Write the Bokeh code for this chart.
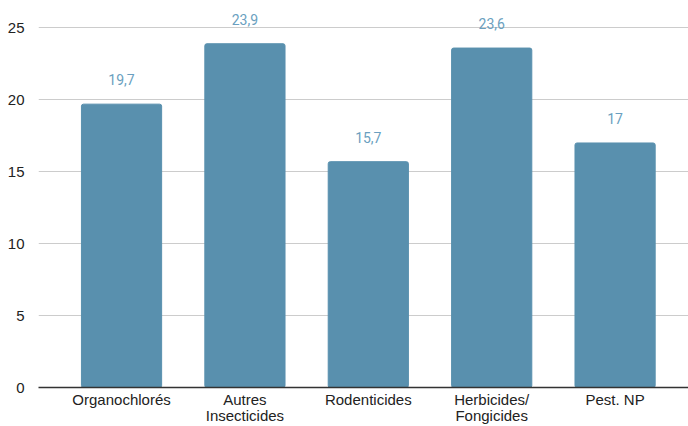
from bokeh.plotting import figure
from bokeh.models import ColumnDataSource, FixedTicker, Range1d
from bokeh.core.properties import value
from bokeh.embed import file_html
from bokeh.resources import INLINE

categories = ["Organochlorés", "Autres\nInsecticides", "Rodenticides", "Herbicides/\nFongicides", "Pest. NP"]
values = [19.7, 23.9, 15.7, 23.6, 17]
y_ticks = [0, 5, 10, 15, 20, 25]

def fmt(v):
    s = ("%g" % v)
    return s.replace(".", ",")

idx = list(range(len(categories)))
src = ColumnDataSource(dict(x=idx, top=values, lab=[fmt(v) for v in values]))

p = figure(width=688, height=426, output_backend="svg", toolbar_location=None,
           x_range=Range1d(-0.673, 4.595), y_range=Range1d(0, 26.35),
           min_border_left=38, min_border_right=0, min_border_top=8, min_border_bottom=0)
p.outline_line_color = None
p.background_fill_color = "white"
p.border_fill_color = "white"

p.vbar(x="x", top="top", width=0.65, source=src, color="#5990ae", border_radius=2)
p.text(x="x", y="top", text="lab", source=src, text_align="center", text_baseline="bottom",
       y_offset=-19, text_font=value("Roboto"), text_font_size="14px", text_color="#6a9fc0")

p.xaxis.ticker = FixedTicker(ticks=idx)
p.xaxis.major_label_overrides = {i: c for i, c in zip(idx, categories)}
p.xaxis.major_tick_line_color = None
p.xaxis.minor_tick_line_color = None
p.xaxis.axis_line_color = "#333333"
p.xaxis.axis_line_width = 1.3
p.xaxis.major_label_text_font = "Liberation Sans"
p.xaxis.major_label_text_font_size = "15px"
p.xaxis.major_label_text_color = "#222222"
p.xaxis.major_label_text_line_height = 0.95
p.xaxis.major_label_standoff = -3

p.yaxis.ticker = FixedTicker(ticks=y_ticks)
p.yaxis.axis_line_color = None
p.yaxis.major_tick_line_color = None
p.yaxis.minor_tick_line_color = None
p.yaxis.major_label_text_font = "Liberation Sans"
p.yaxis.major_label_text_font_size = "15px"
p.yaxis.major_label_text_color = "#222222"
p.yaxis.major_label_standoff = 8

p.xgrid.grid_line_color = None
p.ygrid.ticker = FixedTicker(ticks=y_ticks[1:])
p.ygrid.grid_line_color = "#cccccc"

open("out.html", "w").write(file_html(p, INLINE))
